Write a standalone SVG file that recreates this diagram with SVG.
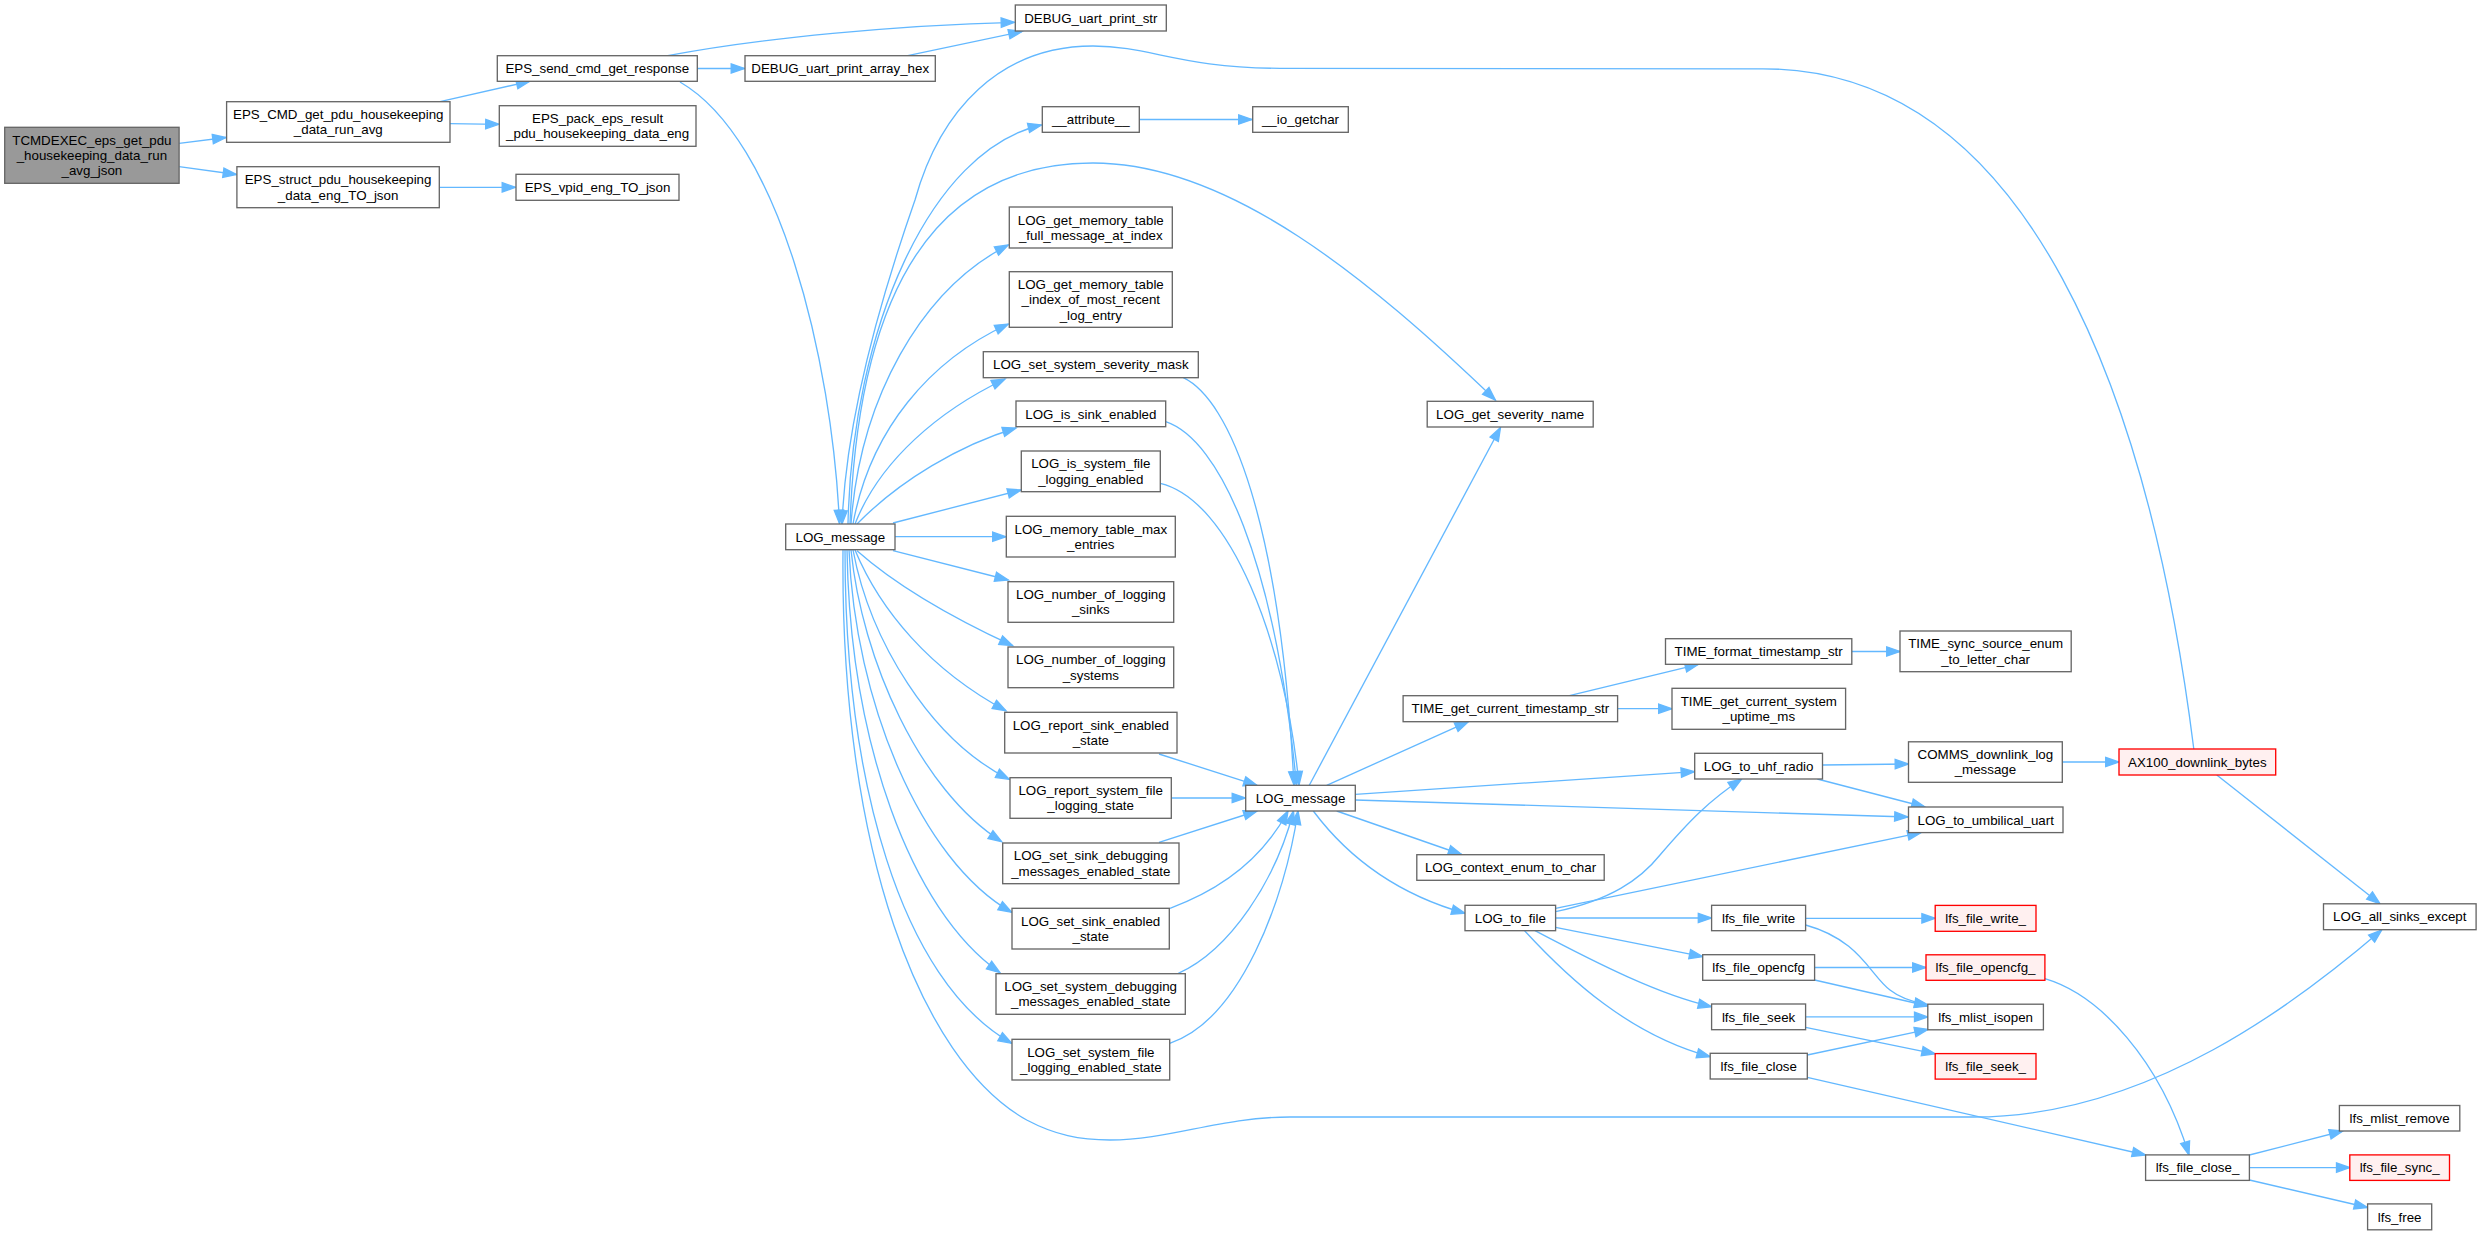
<svg xmlns="http://www.w3.org/2000/svg" width="2481" height="1235" viewBox="0 0 2481 1235">
<defs>
<style>
.node rect{fill:#ffffff;stroke:#666666;stroke-width:1.33}
.node.red rect{fill:#fff0f0;stroke:#ff0000}
.node.root rect{fill:#999999;stroke:#666666}
.node text{font-family:"Liberation Sans",Arial,Helvetica,sans-serif;font-size:13.33px;text-anchor:middle;fill:#000000}
.edges path{fill:none;stroke:#63b8ff;stroke-width:1.33;marker-end:url(#ah)}
</style>
<marker id="ah" markerWidth="14" markerHeight="10" refX="13.3" refY="4.67" orient="auto" markerUnits="userSpaceOnUse" overflow="visible">
<path d="M0,0 L13.3,4.67 L0,9.33 Z" fill="#63b8ff" stroke="#63b8ff" stroke-width="1.33"/>
</marker>
</defs>
<rect x="0" y="0" width="2481" height="1235" fill="#ffffff"/>
<g id="edges" class="edges">
<path d="M179.1,143.3 L226,137.5"/>
<path d="M179.1,166.7 L236.5,174.5"/>
<path d="M440,101.7 L529.8,81.3"/>
<path d="M450,123.7 L499,124.3"/>
<path d="M439.3,187.3 L515.5,187.3"/>
<path d="M697.3,68.5 L744.5,68.5"/>
<path d="M667.7,55.7 C760,38 900,25 1014.5,22.3"/>
<path d="M907.7,55.7 L1022,31.5"/>
<path d="M680,82 C780,140 832,360 839.5,523.5"/>
<path d="M1139.3,119.5 L1252,119.5"/>
<path d="M2193.8,749 C2150,400 2030,69 1763,68.8 L1280,68.3 C1180,68 1150,46 1093,46 C1000,46 940,110 915,200 C880,300 846,420 842,524"/>
<path d="M848,524 C852,330 930,150 1041.5,125"/>
<path d="M850,524 C858,300 930,163 1093,163 C1230,163 1370,280 1495.4,400"/>
<path d="M851,524 C860,400 920,290 1008.3,245"/>
<path d="M853,524 C870,430 930,360 1008.3,324"/>
<path d="M855,524 C880,460 940,410 1005,379"/>
<path d="M857,524 C900,480 960,445 1016,428"/>
<path d="M893,523 L1021,490"/>
<path d="M895,536.7 L1006,536.7"/>
<path d="M893,550.7 L1008.3,580"/>
<path d="M857,550.7 C890,580 940,612 1012.7,645.7"/>
<path d="M855,550 C880,610 930,670 1006,710.7"/>
<path d="M853,550 C870,640 930,740 1009.3,779.3"/>
<path d="M851,550 C862,660 920,790 1001.7,841.7"/>
<path d="M849,550 C855,700 920,860 1011.7,912.3"/>
<path d="M847,550 C850,740 910,910 1000,972.7"/>
<path d="M845,550 C845,780 900,980 1011.7,1043.3"/>
<path d="M843,550 C840,850 920,1060 1026.7,1120 C1055,1135 1080,1140 1110,1140 C1170,1140 1220,1117 1290,1117 L1974,1117 C2150,1117 2300,1000 2381.7,930"/>
<path d="M1183.3,377.7 C1230,400 1280,520 1294,785"/>
<path d="M1165.7,421.7 C1220,440 1275,560 1296.5,785"/>
<path d="M1160.3,483.3 C1230,500 1285,640 1299,785"/>
<path d="M1159,754 L1257,785.3"/>
<path d="M1171.3,798 L1245.5,798"/>
<path d="M1159,842.3 L1257,811"/>
<path d="M1170,908.3 C1220,890 1262,860 1288,811"/>
<path d="M1178.3,973.3 C1230,950 1276,880 1293.5,811"/>
<path d="M1169.7,1043.3 C1240,1020 1285,900 1298,811"/>
<path d="M1309.3,785.3 L1500.5,427.5"/>
<path d="M1326.7,785.3 L1468.3,721.7"/>
<path d="M1355.3,794.3 L1694.5,771.7"/>
<path d="M1355.3,800 C1500,803 1700,810 1908,817"/>
<path d="M1336.7,811 L1461.7,854.5"/>
<path d="M1313.3,811 C1350,860 1400,895 1465,913.3"/>
<path d="M1569.4,695.7 L1698.5,664.3"/>
<path d="M1617.6,708.7 L1672,708.7"/>
<path d="M1851.8,651.5 L1900,651.5"/>
<path d="M1822.5,765 L1908.5,764"/>
<path d="M1817.3,779 L1925,807"/>
<path d="M2062.3,762 L2119,762"/>
<path d="M2216.8,775 L2380,903.8"/>
<path d="M1555.6,911.7 C1610,900 1640,880 1660,855 C1690,820 1710,800 1741.6,779"/>
<path d="M1555.6,908.3 L1921,832.6"/>
<path d="M1555.6,918 L1711.6,918"/>
<path d="M1555.6,927.3 L1702.7,956.7"/>
<path d="M1535,930.7 C1600,965 1660,995 1711.6,1006.7"/>
<path d="M1524.6,930.7 C1570,980 1630,1035 1710.2,1056.7"/>
<path d="M1805.6,918.3 L1935.2,918.3"/>
<path d="M1805.6,925 C1860,940 1870,975 1890,990 C1900,998 1912,1002 1928,1005"/>
<path d="M1814.6,967.5 L1926,967.5"/>
<path d="M1814.6,980 L1928,1006"/>
<path d="M1805.6,1016.9 L1927.8,1016.9"/>
<path d="M1805.6,1027.3 L1935.2,1053.8"/>
<path d="M1807.3,1055 L1928,1029.3"/>
<path d="M1807.3,1077.3 L2145.6,1155"/>
<path d="M2044.9,978.7 C2100,995 2160,1060 2189,1155"/>
<path d="M2249.4,1155 L2342.8,1131"/>
<path d="M2249.4,1167.6 L2349.8,1167.6"/>
<path d="M2249.4,1180 L2367.6,1207.5"/>
</g>
<g id="n_tcmd" class="node root"><rect x="4.7" y="127.3" width="174.4" height="56"/><text x="91.9" y="144.7">TCMDEXEC_eps_get_pdu</text><text x="91.9" y="160">_housekeeping_data_run</text><text x="91.9" y="175.3">_avg_json</text></g>
<g id="n_epscmd" class="node"><rect x="226.6" y="101.7" width="223.4" height="40.6"/><text x="338.3" y="119.05">EPS_CMD_get_pdu_housekeeping</text><text x="338.3" y="134.35">_data_run_avg</text></g>
<g id="n_epsstruct" class="node"><rect x="236.9" y="166.7" width="202.4" height="41"/><text x="338.1" y="184.25">EPS_struct_pdu_housekeeping</text><text x="338.1" y="199.55">_data_eng_TO_json</text></g>
<g id="n_send" class="node"><rect x="497.3" y="55.7" width="200" height="25.6"/><text x="597.3" y="73.2">EPS_send_cmd_get_response</text></g>
<g id="n_pack" class="node"><rect x="499.3" y="105.7" width="196.7" height="40.6"/><text x="597.65" y="123.05">EPS_pack_eps_result</text><text x="597.65" y="138.35">_pdu_housekeeping_data_eng</text></g>
<g id="n_vpid" class="node"><rect x="516" y="174.3" width="163" height="26"/><text x="597.5" y="192">EPS_vpid_eng_TO_json</text></g>
<g id="n_hex" class="node"><rect x="745" y="55.7" width="190.3" height="25.6"/><text x="840.15" y="73.2">DEBUG_uart_print_array_hex</text></g>
<g id="n_logmsg1" class="node"><rect x="785.7" y="524" width="109.3" height="25.7"/><text x="840.35" y="541.55">LOG_message</text></g>
<g id="n_dbgstr" class="node"><rect x="1015.3" y="5" width="151" height="26"/><text x="1090.8" y="22.7">DEBUG_uart_print_str</text></g>
<g id="n_attr" class="node"><rect x="1042.3" y="106.7" width="97" height="25.6"/><text x="1090.8" y="124.2">__attribute__</text></g>
<g id="n_io" class="node"><rect x="1252.7" y="106.7" width="95.6" height="25.6"/><text x="1300.5" y="124.2">__io_getchar</text></g>
<g id="n_memfull" class="node"><rect x="1009.3" y="207" width="163" height="41"/><text x="1090.8" y="224.55">LOG_get_memory_table</text><text x="1090.8" y="239.85">_full_message_at_index</text></g>
<g id="n_memidx" class="node"><rect x="1009.3" y="271.7" width="163" height="55.6"/><text x="1090.8" y="288.9">LOG_get_memory_table</text><text x="1090.8" y="304.2">_index_of_most_recent</text><text x="1090.8" y="319.5">_log_entry</text></g>
<g id="n_sevmask" class="node"><rect x="983.3" y="351.7" width="215" height="26"/><text x="1090.8" y="369.4">LOG_set_system_severity_mask</text></g>
<g id="n_issink" class="node"><rect x="1016" y="401" width="149.7" height="25.7"/><text x="1090.85" y="418.55">LOG_is_sink_enabled</text></g>
<g id="n_issysfile" class="node"><rect x="1021.3" y="451" width="139" height="40.7"/><text x="1090.8" y="468.4">LOG_is_system_file</text><text x="1090.8" y="483.7">_logging_enabled</text></g>
<g id="n_memmax" class="node"><rect x="1006.3" y="516.3" width="169" height="40.7"/><text x="1090.8" y="533.7">LOG_memory_table_max</text><text x="1090.8" y="549">_entries</text></g>
<g id="n_numsinks" class="node"><rect x="1008" y="581.7" width="165.7" height="40.6"/><text x="1090.85" y="599.05">LOG_number_of_logging</text><text x="1090.85" y="614.35">_sinks</text></g>
<g id="n_numsys" class="node"><rect x="1008" y="647" width="165.7" height="40.7"/><text x="1090.85" y="664.4">LOG_number_of_logging</text><text x="1090.85" y="679.7">_systems</text></g>
<g id="n_repsink" class="node"><rect x="1004.7" y="712.3" width="172.3" height="40.7"/><text x="1090.85" y="729.7">LOG_report_sink_enabled</text><text x="1090.85" y="745">_state</text></g>
<g id="n_repsys" class="node"><rect x="1010" y="777.7" width="161.3" height="40.6"/><text x="1090.65" y="795.05">LOG_report_system_file</text><text x="1090.65" y="810.35">_logging_state</text></g>
<g id="n_setsinkdbg" class="node"><rect x="1002.7" y="843" width="176.3" height="40.7"/><text x="1090.85" y="860.4">LOG_set_sink_debugging</text><text x="1090.85" y="875.7">_messages_enabled_state</text></g>
<g id="n_setsink" class="node"><rect x="1012" y="908.3" width="157.3" height="40.7"/><text x="1090.65" y="925.7">LOG_set_sink_enabled</text><text x="1090.65" y="941">_state</text></g>
<g id="n_setsysdbg" class="node"><rect x="996" y="973.7" width="189.3" height="40.6"/><text x="1090.65" y="991.05">LOG_set_system_debugging</text><text x="1090.65" y="1006.35">_messages_enabled_state</text></g>
<g id="n_setsysfile" class="node"><rect x="1012" y="1039.3" width="157.7" height="40.7"/><text x="1090.85" y="1056.7">LOG_set_system_file</text><text x="1090.85" y="1072">_logging_enabled_state</text></g>
<g id="n_logmsg2" class="node"><rect x="1245.7" y="785.3" width="109.6" height="25.7"/><text x="1300.5" y="802.85">LOG_message</text></g>
<g id="n_sevname" class="node"><rect x="1427.2" y="401.3" width="166" height="25.7"/><text x="1510.2" y="418.85">LOG_get_severity_name</text></g>
<g id="n_timecur" class="node"><rect x="1403.1" y="695.7" width="214.5" height="26"/><text x="1510.35" y="713.4">TIME_get_current_timestamp_str</text></g>
<g id="n_ctx" class="node"><rect x="1416.8" y="854.7" width="187.4" height="25.6"/><text x="1510.5" y="872.2">LOG_context_enum_to_char</text></g>
<g id="n_tofile" class="node"><rect x="1465" y="905.3" width="90.6" height="25.4"/><text x="1510.3" y="922.7">LOG_to_file</text></g>
<g id="n_timefmt" class="node"><rect x="1665.5" y="638.7" width="186.3" height="25.6"/><text x="1758.65" y="656.2">TIME_format_timestamp_str</text></g>
<g id="n_uptime" class="node"><rect x="1672" y="688.3" width="173.6" height="41"/><text x="1758.8" y="705.85">TIME_get_current_system</text><text x="1758.8" y="721.15">_uptime_ms</text></g>
<g id="n_uhf" class="node"><rect x="1694.7" y="753.3" width="127.8" height="25.7"/><text x="1758.6" y="770.85">LOG_to_uhf_radio</text></g>
<g id="n_fwrite" class="node"><rect x="1711.6" y="905.3" width="94" height="25.4"/><text x="1758.6" y="922.7">lfs_file_write</text></g>
<g id="n_fopen" class="node"><rect x="1702.7" y="954.7" width="111.9" height="25.6"/><text x="1758.65" y="972.2">lfs_file_opencfg</text></g>
<g id="n_fseek" class="node"><rect x="1711.6" y="1004" width="94" height="25.7"/><text x="1758.6" y="1021.55">lfs_file_seek</text></g>
<g id="n_fclose" class="node"><rect x="1710.2" y="1053.3" width="97.1" height="25.7"/><text x="1758.75" y="1070.85">lfs_file_close</text></g>
<g id="n_tsync" class="node"><rect x="1900" y="631" width="171.2" height="40.7"/><text x="1985.6" y="648.4">TIME_sync_source_enum</text><text x="1985.6" y="663.7">_to_letter_char</text></g>
<g id="n_comms" class="node"><rect x="1908.5" y="741.8" width="153.8" height="40.5"/><text x="1985.4" y="759.1">COMMS_downlink_log</text><text x="1985.4" y="774.4">_message</text></g>
<g id="n_umb" class="node"><rect x="1908.5" y="807" width="154.5" height="25.6"/><text x="1985.75" y="824.5">LOG_to_umbilical_uart</text></g>
<g id="n_ax100" class="node red"><rect x="2119" y="749" width="156.7" height="26"/><text x="2197.35" y="766.7">AX100_downlink_bytes</text></g>
<g id="n_fwrite_" class="node red"><rect x="1935.2" y="905.4" width="100.8" height="25.9"/><text x="1985.6" y="923.05">lfs_file_write_</text></g>
<g id="n_fopen_" class="node red"><rect x="1926" y="954.8" width="118.9" height="25.5"/><text x="1985.45" y="972.25">lfs_file_opencfg_</text></g>
<g id="n_isopen" class="node"><rect x="1927.8" y="1004.2" width="115.6" height="25.6"/><text x="1985.6" y="1021.7">lfs_mlist_isopen</text></g>
<g id="n_fseek_" class="node red"><rect x="1935.2" y="1053.6" width="100.8" height="25.5"/><text x="1985.6" y="1071.05">lfs_file_seek_</text></g>
<g id="n_allsinks" class="node"><rect x="2323.5" y="903.8" width="152.6" height="25.9"/><text x="2399.8" y="921.45">LOG_all_sinks_except</text></g>
<g id="n_fclose_" class="node"><rect x="2145.6" y="1154.9" width="103.8" height="25.5"/><text x="2197.5" y="1172.35">lfs_file_close_</text></g>
<g id="n_mremove" class="node"><rect x="2339.4" y="1105.5" width="120.4" height="25.5"/><text x="2399.6" y="1122.95">lfs_mlist_remove</text></g>
<g id="n_fsync_" class="node red"><rect x="2349.8" y="1154.9" width="99.7" height="25.5"/><text x="2399.65" y="1172.35">lfs_file_sync_</text></g>
<g id="n_free" class="node"><rect x="2367.6" y="1203.9" width="64.1" height="25.9"/><text x="2399.65" y="1221.55">lfs_free</text></g>
</svg>
